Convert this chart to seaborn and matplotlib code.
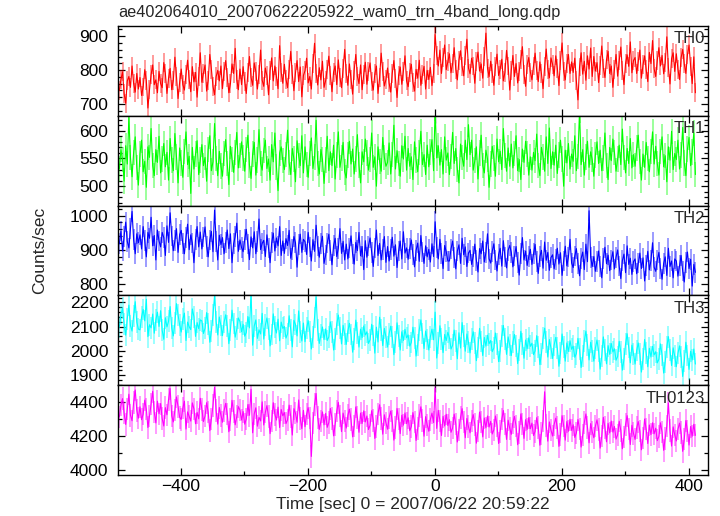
import numpy as np
import matplotlib
matplotlib.use("Agg")
import matplotlib.pyplot as plt
from matplotlib.ticker import MultipleLocator
import seaborn as sns

# Bin centres (sec from 2007/06/22 20:59:22), 2.5 s bins
time = np.arange(-497, 411, 2.5)

th0 = [
    740, 772, 795, 731, 702, 768, 781, 749, 812, 760, 735, 790, 744,
    778, 725, 750, 801, 769, 688, 742, 786, 815, 757, 771, 733, 796,
    760, 748, 822, 790, 731, 776, 805, 742, 769, 838, 781, 716, 764,
    803, 757, 741, 788, 829, 772, 736, 810, 765, 793, 720, 782, 851,
    764, 791, 815, 738, 770, 846, 803, 752, 727, 781, 799, 768, 812,
    745, 797, 828, 779, 733, 760, 818, 790, 864, 771, 742, 803, 757,
    810, 766, 731, 792, 840, 778, 755, 821, 796, 744, 787, 859, 770,
    752, 806, 783, 727, 799, 836, 768, 812, 781, 745, 872, 793, 761,
    817, 773, 748, 801, 855, 786, 739, 792, 828, 766, 809, 721, 784,
    798, 835, 762, 781, 744, 818, 879, 790, 756, 807, 771, 826, 749,
    769, 802, 841, 785, 736, 794, 812, 757, 830, 779, 748, 806, 861,
    791, 755, 818, 773, 729, 800, 846, 782, 760, 815, 742, 788, 823,
    758, 797, 821, 766, 741, 789, 812, 731, 778, 850, 796, 753, 772,
    806, 762, 735, 791, 828, 774, 719, 785, 809, 758, 797, 842, 768,
    751, 793, 817, 764, 738, 802, 776, 829, 755, 786, 811, 744, 799,
    772, 808, 754, 790, 905, 843, 812, 859, 790, 836, 874, 801, 825,
    848, 792, 818, 866, 803, 771, 829, 857, 810, 783, 842, 891, 806,
    789, 835, 812, 761, 824, 853, 797, 818, 776, 840, 909, 805, 781,
    826, 790, 755, 811, 847, 784, 803, 832, 768, 794, 858, 812, 741,
    800, 843, 781, 819, 762, 796, 831, 869, 788, 752, 815, 837, 794,
    771, 812, 850, 798, 766, 824, 789, 745, 810, 862, 803, 777, 836,
    817, 783, 842, 805, 754, 829, 880, 796, 771, 818, 846, 790, 824,
    793, 835, 768, 712, 809, 851, 788, 826, 770, 842, 803, 865, 781,
    840, 797, 822, 763, 814, 871, 806, 778, 831, 855, 790, 812, 749,
    803, 846, 782, 827, 868, 799, 757, 820, 845, 811, 883, 792, 828,
    837, 790, 824, 859, 776, 815, 842, 801, 766, 852, 819, 887, 804,
    781, 829, 866, 812, 843, 789, 822, 898, 807, 759, 834, 851, 796,
    848, 803, 772, 836, 861, 818, 790, 845, 874, 811, 760, 839, 733,
]

th1 = [
    531, 566, 548, 509, 573, 540, 624, 552, 517, 561, 589, 534, 502,
    558, 583, 526, 545, 498, 571, 552, 604, 537, 519, 566, 543, 590,
    524, 549, 577, 535, 561, 511, 586, 547, 528, 595, 553, 506, 569,
    542, 516, 563, 598, 539, 554, 487, 570, 531, 558, 582, 521, 547,
    575, 537, 552, 509, 566, 591, 528, 544, 613, 550, 519, 563, 536,
    518, 559, 584, 541, 503, 572, 548, 525, 561, 597, 533, 555, 580,
    551, 527, 566, 592, 538, 514, 558, 579, 520, 547, 602, 541, 529,
    564, 583, 532, 549, 511, 575, 544, 596, 535, 492, 560, 571, 546,
    530, 557, 601, 543, 521, 568, 549, 508, 582, 555, 537, 591, 524,
    571, 539, 516, 559, 587, 532, 553, 619, 541, 522, 566, 548, 505,
    547, 590, 528, 562, 537, 574, 513, 556, 598, 534, 551, 579, 526,
    515, 556, 581, 540, 567, 522, 549, 593, 538, 506, 562, 544, 585,
    560, 529, 548, 596, 534, 553, 500, 571, 545, 527, 588, 552, 536,
    543, 578, 522, 557, 610, 531, 564, 541, 518, 573, 549, 590, 529,
    568, 536, 553, 512, 580, 547, 526, 561, 599, 539, 557, 521, 574,
    535, 562, 584, 528, 640, 551, 573, 538, 566, 522, 589, 547, 560,
    521, 554, 597, 541, 568, 530, 506, 576, 552, 536, 583, 548, 611,
    557, 583, 529, 546, 571, 513, 560, 592, 537, 524, 565, 549, 498,
    540, 572, 551, 518, 585, 544, 563, 530, 604, 555, 527, 569, 536,
    576, 533, 559, 591, 528, 548, 512, 567, 543, 581, 558, 520, 553,
    529, 561, 546, 594, 537, 519, 570, 553, 527, 589, 541, 605, 532,
    562, 538, 574, 523, 556, 583, 549, 500, 565, 542, 577, 531, 558,
    545, 591, 528, 554, 637, 539, 566, 520, 553, 581, 534, 562, 548,
    518, 556, 580, 541, 565, 528, 551, 596, 537, 512, 570, 546, 585,
    561, 527, 549, 574, 539, 603, 552, 524, 568, 541, 586, 533, 557,
    536, 569, 592, 545, 511, 558, 534, 579, 550, 526, 563, 598, 540,
    572, 541, 520, 563, 589, 535, 555, 508, 571, 547, 599, 530, 559,
    548, 583, 531, 556, 606, 542, 519, 567, 588, 537, 562, 596, 521,
]

th2 = [
    918, 955, 897, 940, 981, 925, 906, 962, 1012, 930, 889, 947, 921,
    944, 903, 968, 927, 880, 951, 934, 995, 912, 942, 871, 958, 926,
    909, 951, 936, 884, 970, 922, 1008, 941, 898, 927, 962, 893, 945,
    957, 918, 889, 936, 975, 901, 944, 920, 863, 931, 968, 909, 952,
    903, 938, 967, 911, 880, 929, 954, 895, 1016, 925, 871, 943, 916,
    936, 889, 922, 958, 904, 947, 863, 918, 939, 978, 896, 929, 907,
    895, 931, 960, 917, 872, 938, 906, 953, 889, 925, 990, 901, 919,
    928, 881, 944, 906, 863, 921, 949, 897, 935, 912, 968, 884, 926,
    890, 933, 913, 957, 876, 902, 939, 921, 850, 915, 946, 893, 931,
    924, 887, 951, 909, 868, 930, 896, 972, 912, 879, 918, 940, 861,
    885, 920, 946, 898, 857, 913, 934, 881, 905, 962, 890, 925, 871,
    917, 874, 906, 941, 888, 859, 922, 898, 951, 883, 910, 843, 927,
    879, 912, 935, 893, 852, 906, 958, 884, 919, 871, 902, 939, 864,
    910, 868, 901, 937, 882, 915, 849, 897, 926, 874, 953, 891, 906,
    873, 905, 929, 886, 851, 899, 920, 867, 942, 894, 861, 912, 880,
    902, 865, 918, 881, 982, 907, 874, 931, 889, 846, 913, 895, 868,
    868, 903, 926, 879, 845, 897, 915, 861, 934, 886, 909, 852, 891,
    899, 858, 881, 917, 870, 836, 904, 889, 926, 865, 893, 947, 874,
    862, 896, 918, 871, 839, 887, 905, 853, 927, 880, 848, 899, 913,
    893, 851, 882, 910, 864, 827, 889, 936, 871, 897, 855, 881, 902,
    858, 889, 916, 866, 832, 881, 899, 847, 923, 870, 893, 841, 878,
    886, 845, 873, 905, 859, 892, 826, 868, 911, 854, 880, 931, 862,
    849, 883, 904, 861, 825, 875, 894, 843, 917, 866, 1014, 879, 852,
    881, 838, 866, 897, 852, 819, 876, 908, 860, 885, 840, 871, 895,
    845, 879, 900, 853, 817, 869, 888, 834, 912, 858, 876, 829, 866,
    874, 831, 862, 891, 846, 877, 810, 855, 896, 842, 869, 921, 850,
    838, 871, 893, 847, 815, 861, 880, 826, 905, 852, 868, 819, 874,
    868, 824, 855, 884, 839, 807, 863, 894, 846, 873, 795, 858, 835,
]

th3 = [
    2098, 2151, 2176, 2110, 2065, 2133, 2189, 2104, 2082, 2145, 2203, 2119, 2090,
    2087, 2140, 2171, 2124, 2213, 2059, 2108, 2095, 2152, 2073, 2129, 2160, 2101,
    2166, 2085, 2048, 2137, 2099, 2122, 2183, 2094, 2062, 2115, 2195, 2148, 2107,
    2078, 2131, 2156, 2043, 2119, 2100, 2088, 2173, 2141, 2060, 2117, 2092, 2128,
    2124, 2072, 2093, 2158, 2110, 2036, 2081, 2147, 2229, 2121, 2066, 2140, 2105,
    2063, 2118, 2149, 2102, 2030, 2085, 2168, 2113, 2057, 2090, 2136, 2121, 2079,
    2110, 2061, 2076, 2142, 2095, 2241, 2024, 2103, 2128, 2052, 2087, 2070, 2155,
    2049, 2107, 2136, 2090, 2021, 2068, 2153, 2098, 2074, 2131, 2042, 2119, 2093,
    2101, 2053, 2070, 2145, 2088, 2017, 2126, 2109, 2062, 2165, 2079, 2041, 2115,
    2038, 2094, 2125, 2080, 2008, 2059, 2138, 2223, 2086, 2031, 2065, 2099, 2047,
    2091, 2043, 2058, 2120, 2077, 2004, 2050, 2112, 2148, 2096, 2029, 2106, 2070,
    2027, 2083, 2114, 2068, 1995, 2049, 2127, 2074, 2016, 2090, 2055, 2103, 2066,
    2079, 2031, 2046, 2110, 2064, 1991, 2098, 2037, 2139, 2085, 2022, 2093, 2058,
    2016, 2071, 2102, 2057, 1985, 2037, 2116, 2061, 2004, 2079, 2043, 2089, 2054,
    2066, 2020, 2035, 2098, 2053, 1979, 2024, 2087, 2128, 2072, 2010, 2082, 2047,
    2004, 2059, 2090, 2046, 2160, 1971, 2032, 2104, 2051, 1993, 2068, 2043, 2077,
    2055, 2008, 2023, 2086, 2041, 1968, 2075, 2012, 2117, 2060, 1999, 2070, 2036,
    1992, 2048, 2079, 2034, 1960, 2014, 2093, 2039, 1981, 2056, 2020, 2065, 2030,
    2043, 1997, 2012, 2074, 2030, 1956, 2001, 2063, 2105, 2049, 1986, 2058, 2024,
    1981, 2036, 2068, 2022, 1948, 2003, 2081, 2028, 1970, 2045, 2009, 2054, 2019,
    2032, 1985, 2000, 2063, 2018, 1944, 1989, 2052, 2094, 2037, 1975, 2047, 2012,
    1969, 2025, 2056, 2011, 1937, 1992, 2070, 2016, 1958, 2033, 1998, 2042, 2007,
    2020, 1974, 1989, 2052, 2007, 1932, 1978, 2041, 2082, 2026, 1963, 2036, 2001,
    1958, 2013, 2045, 1999, 1925, 1980, 2058, 2004, 1947, 2022, 1986, 2031, 1996,
    2009, 1962, 1977, 2040, 1995, 1921, 1966, 2029, 2071, 2014, 1951, 2024, 1989,
    1946, 2002, 2033, 1988, 1913, 1968, 2047, 1993, 1935, 2011, 1975, 2019, 1984,
    1997, 1951, 1966, 2029, 1983, 1909, 1955, 2018, 2059, 2003, 1940, 2013, 1978,
    1935, 1990, 2021, 1976, 1895, 1957, 2036, 1981, 1924, 1999, 1963, 2008, 1946,
]

th0123 = [
    4312, 4381, 4420, 4335, 4268, 4359, 4446, 4322, 4290, 4398, 4471, 4351, 4305,
    4372, 4296, 4328, 4411, 4358, 4250, 4319, 4387, 4463, 4340, 4277, 4405, 4331,
    4391, 4302, 4259, 4367, 4325, 4414, 4479, 4318, 4283, 4352, 4430, 4374, 4310,
    4298, 4364, 4405, 4241, 4342, 4316, 4288, 4395, 4360, 4272, 4339, 4301, 4422,
    4357, 4285, 4318, 4396, 4340, 4232, 4301, 4379, 4487, 4349, 4270, 4368, 4322,
    4281, 4349, 4392, 4330, 4225, 4297, 4410, 4343, 4266, 4315, 4373, 4352, 4294,
    4344, 4270, 4300, 4385, 4322, 4475, 4219, 4331, 4366, 4258, 4310, 4289, 4401,
    4265, 4340, 4379, 4316, 4214, 4288, 4396, 4327, 4294, 4370, 4250, 4356, 4319,
    4338, 4273, 4295, 4382, 4314, 4206, 4361, 4334, 4281, 4412, 4302, 4243, 4351,
    4255, 4329, 4367, 4305, 4080, 4276, 4385, 4450, 4310, 4239, 4287, 4342, 4266,
    4333, 4251, 4279, 4362, 4304, 4201, 4268, 4346, 4398, 4318, 4226, 4335, 4290,
    4247, 4322, 4358, 4296, 4195, 4260, 4371, 4309, 4222, 4335, 4274, 4348, 4283,
    4318, 4238, 4263, 4349, 4292, 4186, 4256, 4331, 4384, 4303, 4211, 4325, 4278,
    4240, 4309, 4347, 4288, 4176, 4250, 4362, 4299, 4214, 4322, 4264, 4336, 4273,
    4307, 4231, 4255, 4338, 4281, 4174, 4243, 4320, 4372, 4291, 4199, 4314, 4266,
    4228, 4298, 4335, 4279, 4480, 4245, 4351, 4290, 4203, 4316, 4259, 4328, 4262,
    4296, 4222, 4247, 4329, 4271, 4165, 4236, 4310, 4361, 4282, 4190, 4303, 4255,
    4219, 4289, 4326, 4268, 4158, 4229, 4341, 4281, 4195, 4306, 4248, 4318, 4253,
    4286, 4212, 4237, 4318, 4262, 4156, 4226, 4299, 4350, 4272, 4180, 4293, 4245,
    4210, 4279, 4315, 4259, 4149, 4220, 4330, 4270, 4186, 4296, 4239, 4308, 4243,
    4276, 4203, 4227, 4308, 4251, 4146, 4215, 4289, 4460, 4262, 4170, 4283, 4235,
    4200, 4269, 4305, 4249, 4139, 4210, 4320, 4260, 4176, 4285, 4228, 4298, 4233,
    4266, 4192, 4217, 4297, 4242, 4135, 4205, 4279, 4330, 4251, 4160, 4273, 4225,
    4190, 4259, 4295, 4239, 4129, 4200, 4310, 4250, 4166, 4275, 4218, 4288, 4223,
    4256, 4182, 4207, 4287, 4232, 4125, 4195, 4269, 4320, 4241, 4150, 4263, 4215,
    4180, 4249, 4285, 4229, 4119, 4190, 4300, 4240, 4156, 4265, 4208, 4278, 4213,
    4246, 4173, 4198, 4278, 4223, 4116, 4186, 4260, 4395, 4232, 4141, 4254, 4206,
    4171, 4240, 4276, 4220, 4110, 4181, 4291, 4231, 4147, 4256, 4199, 4269, 4204,
]

bands = ["TH0", "TH1", "TH2", "TH3", "TH0123"]
series = [th0, th1, th2, th3, th0123]
errors = [28, 23, 30, 45, 66]
colors = ["#ff0000", "#00ff00", "#0000ff", "#00ffff", "#ff00ff"]
ylims = [(665, 930), (465, 627), (768, 1029), (1859, 2229), (3971, 4499)]
major_steps = [100, 50, 100, 100, 200]
minor_steps = [20, 10, 20, 20, 100]

for name, vals in zip(bands, series):
    assert len(vals) == len(time), (name, len(vals), len(time))

sns.set_style("ticks")
plt.rcParams["font.family"] = ["Liberation Sans", "DejaVu Sans"]

fig, axes = plt.subplots(5, 1, figsize=(7.2, 5.16), dpi=100, sharex=True)
fig.subplots_adjust(left=0.164, right=0.983, top=0.9496, bottom=0.0795, hspace=0)

for ax, name, vals, err, col, lim, mj, mn in zip(
        axes, bands, series, errors, colors, ylims, major_steps, minor_steps):
    vals = np.asarray(vals, dtype=float)
    # error bars first, lighter
    ax.vlines(time, vals - err, vals + err, colors=col, alpha=0.5, linewidth=1.1)
    sns.lineplot(x=time, y=vals, ax=ax, color=col, linewidth=0.8)
    ax.set_ylim(*lim)
    ax.set_xlim(-499, 430)
    ax.yaxis.set_major_locator(MultipleLocator(mj))
    ax.yaxis.set_minor_locator(MultipleLocator(mn))
    ax.xaxis.set_major_locator(MultipleLocator(200))
    ax.xaxis.set_minor_locator(MultipleLocator(100))
    ax.tick_params(which="both", direction="in", top=True, right=True,
                   labelsize=12.5, colors="black", width=0.9)
    ax.tick_params(axis="y", pad=7)
    ax.tick_params(axis="x", pad=3)
    ax.tick_params(which="major", length=5)
    ax.tick_params(which="minor", length=3)
    for sp in ax.spines.values():
        sp.set_linewidth(1.0)
        sp.set_color("black")
    ax.set_ylabel("")
    ax.set_xlabel("")
    ax.text(0.995, 0.94, name, transform=ax.transAxes, ha="right", va="top",
            fontsize=12)

axes[-1].set_xlabel("Time [sec] 0 = 2007/06/22 20:59:22", fontsize=12.5, labelpad=2)
fig.text(40 / 720, 1 - 250 / 516, "Counts/sec", rotation=90, ha="center",
         va="center", fontsize=12.5)
fig.text(118 / 720, 1 - 12 / 516, "ae402064010_20070622205922_wam0_trn_4band_long.qdp",
         ha="left", va="center", fontsize=11.7)

fig.savefig("out.png", dpi=100)
